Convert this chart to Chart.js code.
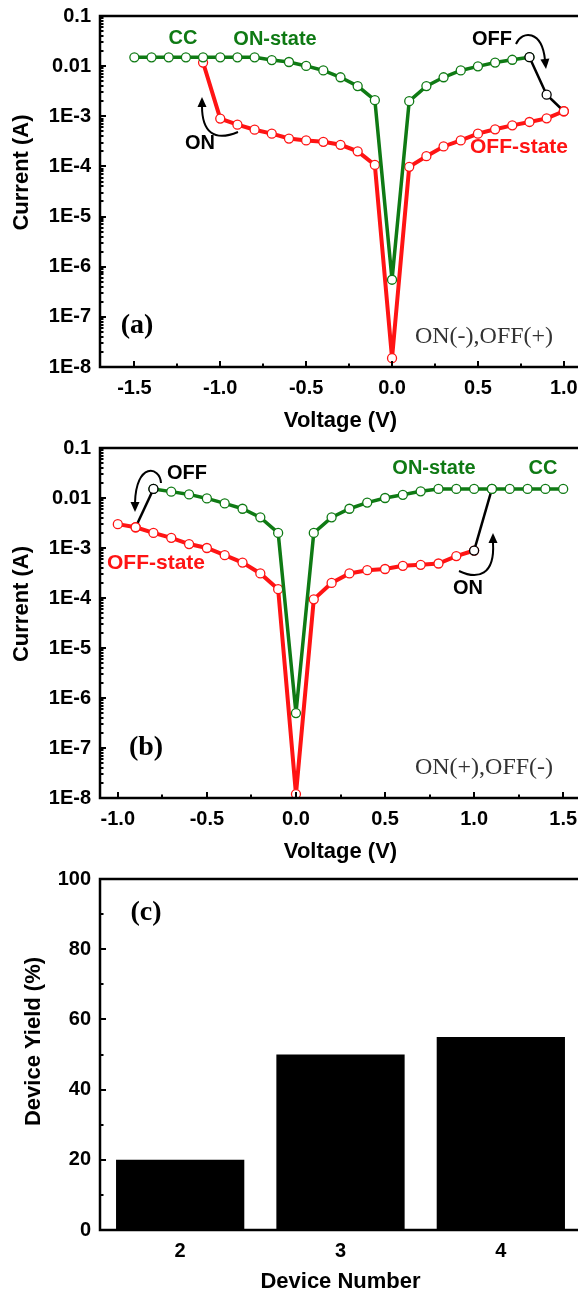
<!DOCTYPE html>
<html>
<head>
<meta charset="utf-8">
<title>Resistive switching I-V and device yield</title>
<script src="https://cdn.jsdelivr.net/npm/chart.js@4.4.1/dist/chart.umd.min.js"></script>
<style>
  html, body { margin: 0; padding: 0; background: #fff; overflow: hidden; }
  body { position: relative; width: 578px; height: 1292px; overflow: hidden; }
  canvas { position: absolute; left: 0; }
</style>
</head>
<body>
<canvas id="chartA" width="600" height="432" style="top:0px"></canvas>
<canvas id="chartB" width="600" height="434" style="top:432px"></canvas>
<canvas id="chartC" width="600" height="426" style="top:866px"></canvas>
<script>
// (a) ON at negative bias, OFF at positive bias
const aOnVolt = [-1.5, -1.4, -1.3, -1.2, -1.1, -1.0, -0.9, -0.8, -0.7, -0.6, -0.5, -0.4, -0.3, -0.2, -0.1, 0, 0.1, 0.2, 0.3, 0.4, 0.5, 0.6, 0.7, 0.8];
const aOnCurr = [0.015, 0.015, 0.015, 0.015, 0.015, 0.015, 0.015, 0.015, 0.0132, 0.0121, 0.0101, 0.0082, 0.006, 0.004, 0.0021, 5.5e-7, 0.002, 0.004, 0.006, 0.0082, 0.0099, 0.0118, 0.0134, 0.0151];
const aOffVolt = [-1.1, -1.0, -0.9, -0.8, -0.7, -0.6, -0.5, -0.4, -0.3, -0.2, -0.1, 0, 0.1, 0.2, 0.3, 0.4, 0.5, 0.6, 0.7, 0.8, 0.9, 1.0];
const aOffCurr = [0.0118, 9e-4, 6.8e-4, 5.4e-4, 4.5e-4, 3.6e-4, 3.3e-4, 3.1e-4, 2.7e-4, 2.0e-4, 1.07e-4, 1.5e-8, 9.8e-5, 1.6e-4, 2.5e-4, 3.3e-4, 4.5e-4, 5.5e-4, 6.6e-4, 7.7e-4, 9.1e-4, 1.26e-3];
const aResetVolt = [0.8, 0.9, 1.0];
const aResetCurr = [0.0151, 0.0027, 0.00126];

// (b) ON at positive bias, OFF at negative bias
const bOnVolt = [-0.8, -0.7, -0.6, -0.5, -0.4, -0.3, -0.2, -0.1, 0, 0.1, 0.2, 0.3, 0.4, 0.5, 0.6, 0.7, 0.8, 0.9, 1.0, 1.1, 1.2, 1.3, 1.4, 1.5];
const bOnCurr = [0.0152, 0.0134, 0.0118, 0.0098, 0.0078, 0.0061, 0.0041, 0.002, 5e-7, 0.002, 0.0041, 0.0061, 0.0081, 0.01, 0.0116, 0.0136, 0.0152, 0.0152, 0.0152, 0.0152, 0.0152, 0.0152, 0.0152, 0.0152];
const bOffVolt = [-1.0, -0.9, -0.8, -0.7, -0.6, -0.5, -0.4, -0.3, -0.2, -0.1, 0, 0.1, 0.2, 0.3, 0.4, 0.5, 0.6, 0.7, 0.8, 0.9, 1.0];
const bOffCurr = [0.003, 0.0026, 0.002, 0.0016, 0.0012, 0.001, 7.2e-4, 5.1e-4, 3.1e-4, 1.5e-4, 1.2e-8, 9.4e-5, 2.0e-4, 3.1e-4, 3.6e-4, 3.8e-4, 4.4e-4, 4.6e-4, 4.9e-4, 6.9e-4, 8.9e-4];
const bResetVolt = [-0.9, -0.8];
const bResetCurr = [0.0026, 0.0152];
const bSetVolt = [1.0, 1.1];
const bSetCurr = [8.9e-4, 0.0152];

// (c) yield
const deviceNumbers = ['2', '3', '4'];
const deviceYield = [20, 50, 55];

// ticks
const currTicks = [0.1, 0.01, 1e-3, 1e-4, 1e-5, 1e-6, 1e-7, 1e-8];
const currTickLabels = ['0.1', '0.01', '1E-3', '1E-4', '1E-5', '1E-6', '1E-7', '1E-8'];
const aVoltTicks = [-1.5, -1.0, -0.5, 0, 0.5, 1.0];
const bVoltTicks = [-1.0, -0.5, 0, 0.5, 1.0, 1.5];
const yieldTicks = [0, 20, 40, 60, 80, 100];

const GREEN = '#0f7a14';
const RED = '#ff1414';
const SANS = '"Liberation Sans", Arial, sans-serif';
const SERIF = '"Liberation Serif", "Times New Roman", serif';
const tickFont = { family: SANS, size: 20, weight: 'bold' };

function pts(xs, ys) {
    return xs.map((x, i) => ({ x: x, y: ys[i] }));
}

// log-axis minor ticks 2..9 in each decade
const logMinor = [];
for (let e = -8; e < -1; e++) {
    for (let k = 2; k <= 9; k++) logMinor.push(k * Math.pow(10, e));
}

// frame, inward ticks, axis titles and annotations
const frame = {
    id: 'frame',
    afterDraw(chart, args, o) {
        const ctx = chart.ctx;
        const a = chart.chartArea;
        const xs = chart.scales.x, ys = chart.scales.y;
        ctx.save();
        ctx.strokeStyle = '#000';
        ctx.lineWidth = 2;
        ctx.beginPath();
        ys.ticks.forEach(t => {
            const y = Math.round(ys.getPixelForValue(t.value));
            ctx.moveTo(a.left, y); ctx.lineTo(a.left + 6, y);
        });
        (o.yMinor || []).forEach(v => {
            const y = Math.round(ys.getPixelForValue(v));
            ctx.moveTo(a.left, y); ctx.lineTo(a.left + 3.5, y);
        });
        if (o.xTicks) {
            xs.ticks.forEach(t => {
                const x = Math.round(xs.getPixelForValue(t.value));
                ctx.moveTo(x, a.bottom); ctx.lineTo(x, a.bottom - 6);
            });
            (o.xMinor || []).forEach(v => {
                const x = Math.round(xs.getPixelForValue(v));
                ctx.moveTo(x, a.bottom); ctx.lineTo(x, a.bottom - 3.5);
            });
        }
        ctx.stroke();
        ctx.lineWidth = 2.5;
        ctx.strokeRect(a.left, a.top, a.right - a.left, a.bottom - a.top);

        ctx.fillStyle = '#000';
        ctx.textAlign = 'center';
        ctx.textBaseline = 'middle';
        ctx.font = 'bold 22px ' + SANS;
        ctx.fillText(o.xTitle, (a.left + a.right) / 2, a.bottom + o.xTitleGap);
        ctx.save();
        ctx.translate(o.yTitleX, (a.top + a.bottom) / 2 + o.yTitleShift);
        ctx.rotate(-Math.PI / 2);
        ctx.fillText(o.yTitle, 0, 0);
        ctx.restore();

        (o.labels || []).forEach(l => {
            ctx.fillStyle = l.color || '#000';
            ctx.font = l.font || ('bold 20px ' + SANS);
            ctx.fillText(l.text, l.x, l.y);
        });

        ctx.strokeStyle = '#000';
        ctx.fillStyle = '#000';
        ctx.lineWidth = 2;
        (o.arrows || []).forEach(ar => {
            const p = ar.path;
            ctx.beginPath();
            ctx.moveTo(p[0], p[1]);
            ctx.bezierCurveTo(p[2], p[3], p[4], p[5], p[6], p[7]);
            ctx.stroke();
            const dx = ar.tip[0] - p[6], dy = ar.tip[1] - p[7];
            const len = Math.hypot(dx, dy);
            const ux = dx / len, uy = dy / len;
            const bx = ar.tip[0] - ux * 10, by = ar.tip[1] - uy * 10;
            ctx.beginPath();
            ctx.moveTo(ar.tip[0], ar.tip[1]);
            ctx.lineTo(bx - uy * 4.5, by + ux * 4.5);
            ctx.lineTo(bx + uy * 4.5, by - ux * 4.5);
            ctx.closePath();
            ctx.fill();
        });
        ctx.restore();
    }
};
Chart.register(frame);

function lineSet(data, color, width, pointColors) {
    return {
        data: data,
        borderColor: color,
        borderWidth: width,
        pointRadius: 4.5,
        pointBorderWidth: 1.3,
        pointBackgroundColor: '#fff',
        pointBorderColor: pointColors || color,
        tension: 0
    };
}

function ivOptions(xMin, xMax, xTickVals, xAxisHeight, padTop, decor) {
    return {
        responsive: false,
        animation: false,
        layout: { padding: { top: padTop, right: 19, left: 0, bottom: 0 } },
        plugins: { legend: { display: false }, tooltip: { enabled: false }, frame: decor },
        scales: {
            x: {
                type: 'linear',
                min: xMin,
                max: xMax,
                grid: { display: false },
                border: { display: false },
                afterBuildTicks: s => { s.ticks = xTickVals.map(v => ({ value: v })); },
                afterFit: s => { s.height = xAxisHeight; },
                ticks: { color: '#000', font: tickFont, padding: 1, maxRotation: 0, callback: v => v.toFixed(1) }
            },
            y: {
                type: 'logarithmic',
                min: 1e-8,
                max: 0.1,
                grid: { display: false },
                border: { display: false },
                afterBuildTicks: s => { s.ticks = currTicks.map(v => ({ value: v })); },
                afterFit: s => { s.width = 100; },
                ticks: { color: '#000', font: tickFont, padding: 1, callback: (v, i) => currTickLabels[i] }
            }
        }
    };
}

new Chart(document.getElementById('chartA'), {
    type: 'line',
    data: {
        datasets: [
            lineSet(pts(aResetVolt, aResetCurr), '#000', 2.5, ['#000', '#000', RED]),
            lineSet(pts(aOnVolt, aOnCurr), GREEN, 3.5),
            lineSet(pts(aOffVolt, aOffCurr), RED, 4)
        ]
    },
    options: ivOptions(-1.7, 1.1, aVoltTicks, 65, 16, {
        xTicks: true,
        xMinor: [-1.25, -0.75, -0.25, 0.25, 0.75],
        yMinor: logMinor,
        xTitle: 'Voltage (V)', xTitleGap: 54,
        yTitle: 'Current (A)', yTitleX: 22, yTitleShift: -19,
        labels: [
            { text: 'CC', x: 183, y: 38, color: GREEN },
            { text: 'ON-state', x: 275, y: 39, color: GREEN },
            { text: 'OFF', x: 492, y: 39 },
            { text: 'OFF-state', x: 519, y: 147, color: RED, font: 'bold 21px ' + SANS },
            { text: 'ON', x: 200, y: 143 },
            { text: '(a)', x: 137, y: 326, font: 'bold 28px ' + SERIF },
            { text: 'ON(-),OFF(+)', x: 484, y: 337, color: '#333', font: '24px ' + SERIF }
        ],
        arrows: [
            { path: [516, 44, 522, 30, 542, 30, 545, 60], tip: [546, 69] },
            { path: [238, 132, 214, 142, 202, 132, 202, 106], tip: [202, 97] }
        ]
    })
});

new Chart(document.getElementById('chartB'), {
    type: 'line',
    data: {
        datasets: [
            lineSet(pts(bResetVolt, bResetCurr), '#000', 2.5, [RED, '#000']),
            lineSet(pts(bSetVolt, bSetCurr), '#000', 2.5, ['#000', GREEN]),
            lineSet(pts(bOnVolt, bOnCurr), GREEN, 3.5),
            lineSet(pts(bOffVolt, bOffCurr), RED, 4)
        ]
    },
    options: ivOptions(-1.1, 1.6, bVoltTicks, 68, 16, {
        xTicks: true,
        xMinor: [-0.75, -0.25, 0.25, 0.75, 1.25],
        yMinor: logMinor,
        xTitle: 'Voltage (V)', xTitleGap: 54,
        yTitle: 'Current (A)', yTitleX: 22, yTitleShift: -19,
        labels: [
            { text: 'OFF', x: 187, y: 41 },
            { text: 'OFF-state', x: 156, y: 131, color: RED, font: 'bold 21px ' + SANS },
            { text: 'ON-state', x: 434, y: 36, color: GREEN },
            { text: 'CC', x: 543, y: 36, color: GREEN },
            { text: 'ON', x: 468, y: 156 },
            { text: '(b)', x: 146, y: 316, font: 'bold 28px ' + SERIF },
            { text: 'ON(+),OFF(-)', x: 484, y: 336, color: '#333', font: '24px ' + SERIF }
        ],
        arrows: [
            { path: [161, 51, 160, 34, 136, 30, 135, 71], tip: [135, 80] },
            { path: [459, 139, 478, 148, 495, 143, 493, 111], tip: [493, 101] }
        ]
    })
});

new Chart(document.getElementById('chartC'), {
    type: 'bar',
    data: {
        labels: deviceNumbers,
        datasets: [{
            data: deviceYield,
            backgroundColor: '#000',
            borderWidth: 0,
            barPercentage: 0.8,
            categoryPercentage: 1
        }]
    },
    options: {
        responsive: false,
        animation: false,
        layout: { padding: { top: 12, right: 19, left: 0, bottom: 0 } },
        plugins: {
            legend: { display: false },
            tooltip: { enabled: false },
            frame: {
                xTicks: false,
                yMinor: [10, 30, 50, 70, 90],
                xTitle: 'Device Number', xTitleGap: 52,
                yTitle: 'Device Yield (%)', yTitleX: 34, yTitleShift: -13,
                labels: [
                    { text: '(c)', x: 146, y: 47, font: 'bold 28px ' + SERIF }
                ]
            }
        },
        scales: {
            x: {
                type: 'category',
                offset: true,
                grid: { display: false },
                border: { display: false },
                afterFit: s => { s.height = 62; },
                ticks: { color: '#000', font: tickFont, padding: 1 }
            },
            y: {
                min: 0,
                max: 100,
                grid: { display: false },
                border: { display: false },
                afterBuildTicks: s => { s.ticks = yieldTicks.map(v => ({ value: v })); },
                afterFit: s => { s.width = 100; },
                ticks: { color: '#000', font: tickFont, padding: 1 }
            }
        }
    }
});
</script>
</body>
</html>
